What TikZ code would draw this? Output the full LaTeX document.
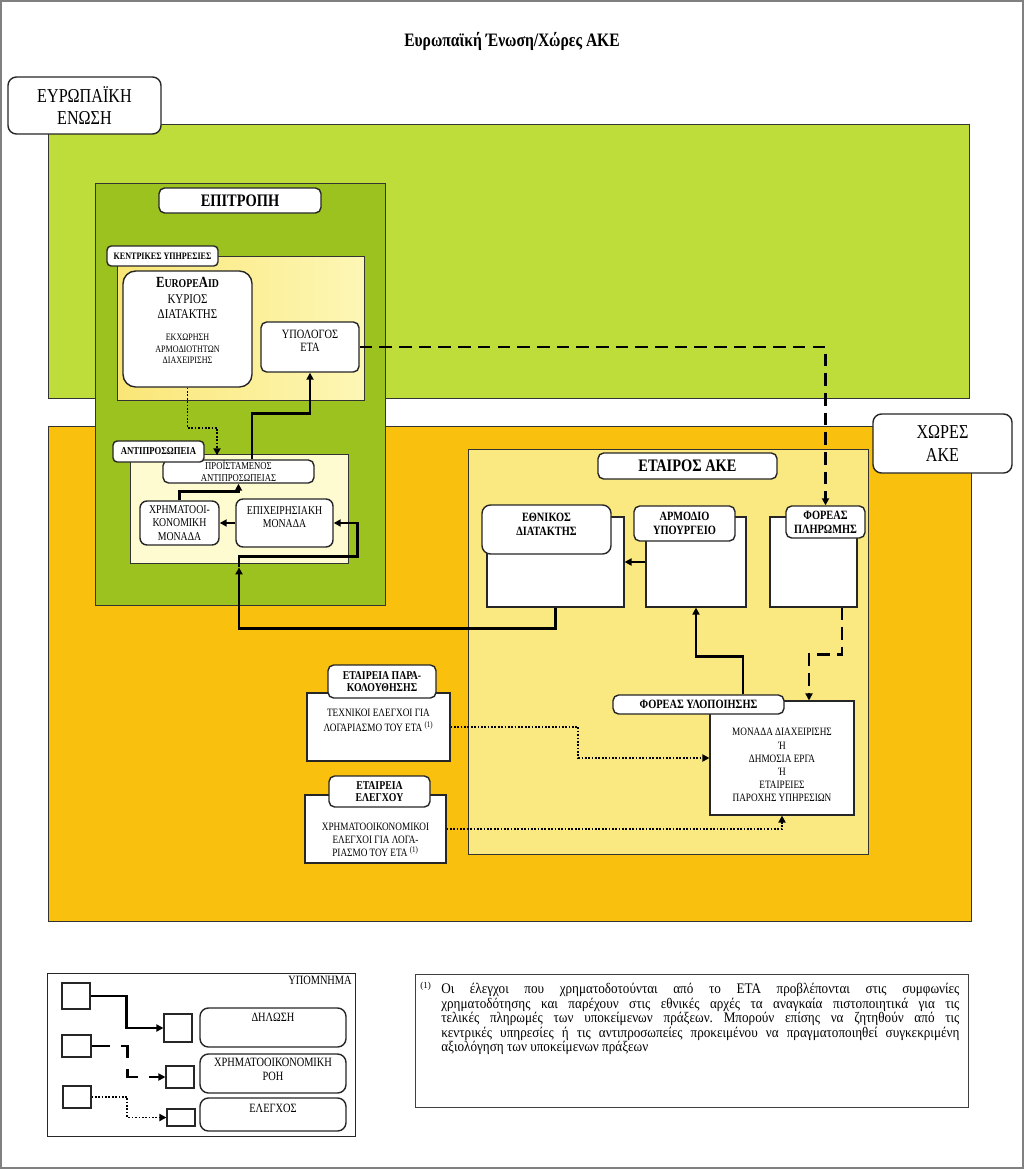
\documentclass[tikz,border=0pt]{standalone}
\usepackage{fontspec}
\setmainfont{Liberation Serif}
\newfontfamily\nrw[FakeStretch=0.82]{Liberation Serif}
\newfontfamily\notefont[FakeStretch=0.9]{Liberation Serif}
\usetikzlibrary{arrows.meta, positioning, calc, fit}

\definecolor{eugreen}{RGB}{191,221,58}
\definecolor{commgreen}{RGB}{156,194,32}
\definecolor{hqyellow}{RGB}{250,230,118}
\definecolor{hqpale}{RGB}{253,247,182}
\definecolor{delepale}{RGB}{255,251,208}
\definecolor{acporange}{RGB}{249,193,14}
\definecolor{partneryellow}{RGB}{250,232,128}

\newcommand{\fsz}[2]{\fontsize{#1}{#2}\selectfont}

\begin{document}
\begin{tikzpicture}[
    x=0.025cm, y=-0.025cm,
    >=stealth,
    every node/.style={align=center}
]
    % Define styles
    \tikzstyle{area} = [rectangle, draw=black!80, line width=0.6pt, inner sep=0pt]
    \tikzstyle{panel} = [rectangle, draw=black!85, line width=0.8pt, fill=white, inner sep=0pt]
    \tikzstyle{tag} = [rectangle, rounded corners=4pt, draw=black!85, line width=1pt, fill=white, inner sep=0pt]
    \tikzstyle{txt} = [inner sep=0pt, font=\nrw\fsz{8}{9.3}]
    \tikzstyle{tagtxt} = [inner sep=0pt, font=\nrw\bfseries\fsz{9}{10}]
    \tikzstyle{decl} = [line width=2pt, -{Triangle[length=5pt,width=5pt]}]
    \tikzstyle{flow} = [line width=2pt, dash pattern=on 9pt off 5pt, -{Triangle[length=5pt,width=5pt]}]
    \tikzstyle{ctrl} = [line width=1.4pt, dash pattern=on 1.2pt off 1.2pt, -{Triangle[length=5pt,width=5pt]}]

    \useasboundingbox (0,0) rectangle (1024,1169);
    \draw[gray, line width=1.5pt] (1,1) rectangle (1023,1168);

    % Title
    \node[font=\nrw\bfseries\fsz{13.5}{15}] (title) at (512,41) {Ευρωπαϊκή Ένωση/Χώρες ΑΚΕ};

    % Large areas
    \node[area, fill=eugreen, fit={(48,124) (969,398)}] (eu) {};
    \node[area, fill=acporange, fit={(48,426) (971,921)}] (acp) {};
    \node[tag, rounded corners=6pt, fit={(8,77) (161,134)}] (eulbl) {};
    \node[txt, font=\nrw\fsz{14}{16}] (eutxt) at (eulbl) {ΕΥΡΩΠΑΪΚΗ\\ΕΝΩΣΗ};
    \node[tag, rounded corners=6pt, fit={(873,414) (1012,473)}] (acplbl) {};
    \node[txt, font=\nrw\fsz{14}{16}] (acptxt) at (acplbl) {ΧΩΡΕΣ\\ΑΚΕ};

    % Commission
    \node[area, fill=commgreen, fit={(95,183) (385,605)}] (comm) {};
    \node[tag, fit={(159,188) (321,213)}] (commlbl) {};
    \node[tagtxt, font=\nrw\bfseries\fsz{12.5}{14}] (commtxt) at (commlbl) {ΕΠΙΤΡΟΠΗ};

    % Headquarters
    \node[area, left color=hqyellow, right color=hqpale, fit={(117,256) (364,400)}] (hq) {};
    \node[tag, rounded corners=3pt, fit={(107,246) (218,266)}] (hqlbl) {};
    \node[tagtxt, font=\nrw\bfseries\fsz{7}{8}] (hqtxt) at (hqlbl) {ΚΕΝΤΡΙΚΕΣ ΥΠΗΡΕΣΙΕΣ};
    \node[tag, rounded corners=9pt, fit={(123,271) (252,387)}] (aid) {};
    \node[txt, font=\nrw\fsz{9.5}{11}] (aidtitle) at (187.5,298) {{\bfseries\fsz{11}{11}E\fsz{8.5}{11}UROPE\fsz{11}{11}A\fsz{8.5}{11}ID}\\ΚΥΡΙΟΣ\\ΔΙΑΤΑΚΤΗΣ};
    \node[txt, font=\nrw\fsz{7}{8.2}] (aidnote) at (187.5,349) {ΕΚΧΩΡΗΣΗ\\ΑΡΜΟΔΙΟΤΗΤΩΝ\\ΔΙΑΧΕΙΡΙΣΗΣ};
    \node[tag, fit={(261,322) (359,372)}] (accnt) {};
    \node[txt, font=\nrw\fsz{9}{9.5}] (accnttxt) at (310,341) {ΥΠΟΛΟΓΟΣ\\ΕΤΑ};

    % Delegation
    \node[area, fill=delepale, fit={(130,454) (348,563)}] (dele) {};
    \node[tag, fit={(163,460) (314,483)}] (head) {};
    \node[txt, font=\nrw\fsz{7.5}{8.5}] (headtxt) at (head) {ΠΡΟΪΣΤΑΜΕΝΟΣ\\ΑΝΤΙΠΡΟΣΩΠΕΙΑΣ};
    \node[tag, rounded corners=3pt, fit={(113,441) (204,462)}] (delelbl) {};
    \node[tagtxt, font=\nrw\bfseries\fsz{7.5}{8}] (deletxt) at (delelbl) {ΑΝΤΙΠΡΟΣΩΠΕΙΑ};
    \node[tag, rounded corners=5pt, fit={(140,501) (219,545)}] (fin) {};
    \node[txt, font=\nrw\fsz{8.5}{9.8}] (fintxt) at (fin) {ΧΡΗΜΑΤΟΟΙ-\\ΚΟΝΟΜΙΚΗ\\ΜΟΝΑΔΑ};
    \node[tag, rounded corners=5pt, fit={(236,499) (333,547)}] (ops) {};
    \node[txt, font=\nrw\fsz{8.5}{9.5}] (opstxt) at (284.5,517) {ΕΠΙΧΕΙΡΗΣΙΑΚΗ\\ΜΟΝΑΔΑ};

    % ACP partner
    \node[area, fill=partneryellow, fit={(468,449) (868,854)}] (partner) {};
    \node[tag, fit={(598,453) (777,479)}] (partnerlbl) {};
    \node[tagtxt, font=\nrw\bfseries\fsz{12.5}{14}] (partnertxt) at (partnerlbl) {ΕΤΑΙΡΟΣ ΑΚΕ};

    \node[panel, fit={(487,517) (624,607)}] (natbox) {};
    \node[tag, rounded corners=6pt, fit={(482,505) (611,554)}] (natlbl) {};
    \node[tagtxt] (nattxt) at (546.5,524) {ΕΘΝΙΚΟΣ\\ΔΙΑΤΑΚΤΗΣ};
    \node[panel, fit={(646,517) (746,607)}] (minbox) {};
    \node[tag, fit={(634,506) (735,541)}] (minlbl) {};
    \node[tagtxt] (mintxt) at (minlbl) {ΑΡΜΟΔΙΟ\\ΥΠΟΥΡΓΕΙΟ};
    \node[panel, fit={(770,517) (857,607)}] (paybox) {};
    \node[tag, fit={(786,506) (865,538)}] (paylbl) {};
    \node[tagtxt] (paytxt) at (paylbl) {ΦΟΡΕΑΣ\\ΠΛΗΡΩΜΗΣ};

    \node[panel, fit={(710,701) (854,815)}] (implbox) {};
    \node[txt, font=\nrw\fsz{8}{9.3}] (impltxt) at (782,765) {ΜΟΝΑΔΑ ΔΙΑΧΕΙΡΙΣΗΣ\\Ή\\ΔΗΜΟΣΙΑ ΕΡΓΑ\\Ή\\ΕΤΑΙΡΕΙΕΣ\\ΠΑΡΟΧΗΣ ΥΠΗΡΕΣΙΩΝ};
    \node[tag, fit={(613,695) (784,714)}] (impllbl) {};
    \node[tagtxt] (impllbltxt) at (impllbl) {ΦΟΡΕΑΣ ΥΛΟΠΟΙΗΣΗΣ};

    % Monitoring and audit companies
    \node[panel, fit={(307,693) (450,761)}] (monbox) {};
    \node[txt, font=\nrw\fsz{8}{10.5}] (montxt) at (378.5,720) {ΤΕΧΝΙΚΟΙ ΕΛΕΓΧΟΙ ΓΙΑ\\ΛΟΓΑΡΙΑΣΜΟ ΤΟΥ ΕΤΑ \textsuperscript{(1)}};
    \node[tag, fit={(328,665) (436,698)}] (monlbl) {};
    \node[tagtxt, font=\nrw\bfseries\fsz{8.5}{9}] (monlbltxt) at (monlbl) {ΕΤΑΙΡΕΙΑ ΠΑΡΑ-\\ΚΟΛΟΥΘΗΣΗΣ};
    \node[panel, fit={(305,795) (446,863)}] (audbox) {};
    \node[txt, font=\nrw\fsz{8}{9.3}] (audtxt) at (375.5,840) {ΧΡΗΜΑΤΟΟΙΚΟΝΟΜΙΚΟΙ\\ΕΛΕΓΧΟΙ ΓΙΑ ΛΟΓΑ-\\ΡΙΑΣΜΟ ΤΟΥ ΕΤΑ \textsuperscript{(1)}};
    \node[tag, fit={(329,776) (430,807)}] (audlbl) {};
    \node[tagtxt, font=\nrw\bfseries\fsz{8.5}{9}] (audlbltxt) at (audlbl) {ΕΤΑΙΡΕΙΑ\\ΕΛΕΓΧΟΥ};

    % Connectors in the Commission
    \draw[ctrl] (aid.south) -- ++(0,40) -| ($(head.north)+(-21.5,-4)$);
    \draw[decl] ($(head.north)+(13.5,0)$) |- ($(accnt.south)+(0,41)$) -- (accnt.south);
    \draw[decl] (ops.west) -- (fin.east);
    \draw[decl] (fin.north) |- ($(head.south)+(0,8)$) -- (head.south);
    \draw[decl] (natbox.south) -- ++(0,21) -| ($(dele.south)+(0,4)$);
    \draw[decl] ($(dele.south)+(0,4)$) -- ++(0,-11) -| ($(ops.east)+(24,0)$) -- (ops.east);

    % Connectors in the ACP country
    \draw[flow] (accnt.east) -| (paylbl.north);
    \draw[decl] (minbox.west) -- (natbox.east);
    \draw[decl] ($(impllbl.north)+(44.5,0)$) |- ($(minbox.south)+(0,49)$) -- (minbox.south);
    \draw[flow] ($(paybox.south)+(28.5,0)$) |- ($(implbox.north)+(27,-46)$) -- ($(implbox.north)+(27,0)$);
    \draw[ctrl] (monbox.east) -| ($(implbox.west)+(-131,0)$) -- (implbox.west);
    \draw[ctrl] (audbox.east) -| (implbox.south);

    % Legend
    \node[area, draw=black!85, fill=white, fit={(47,973) (355,1136)}] (legend) {};
    \node[txt, anchor=north east, font=\nrw\fsz{9}{10}] (legendttl) at (352,976) {ΥΠΟΜΝΗΜΑ};
    \node[panel, fit={(62,983) (90,1009)}] (lg1) {};
    \node[panel, fit={(164,1014) (192,1042)}] (lg2) {};
    \node[panel, fit={(62,1035) (91,1057)}] (lg3) {};
    \node[panel, fit={(166,1066) (194,1088)}] (lg4) {};
    \node[panel, fit={(63,1086) (91,1108)}] (lg5) {};
    \node[panel, fit={(167,1109) (195,1126)}] (lg6) {};
    \draw[decl] (lg1.east) -| ($(lg2.west)+(-37,0)$) -- (lg2.west);
    \draw[flow, dash pattern=on 13pt off 8pt] (lg3.east) -| ($(lg4.west)+(-38,0)$) -- (lg4.west);
    \draw[ctrl] (lg5.east) -| ($(lg6.west)+(-39,0)$) -- (lg6.west);
    \node[tag, rounded corners=6pt, fit={(200,1008) (346,1047)}] (lgdecl) {};
    \node[txt, font=\nrw\fsz{9}{10}] (lgdecltxt) at (273,1017) {ΔΗΛΩΣΗ};
    \node[tag, rounded corners=6pt, fit={(200,1054) (346,1093)}] (lgflow) {};
    \node[txt, font=\nrw\fsz{9}{10}] (lgflowtxt) at (273,1069) {ΧΡΗΜΑΤΟΟΙΚΟΝΟΜΙΚΗ\\ΡΟΗ};
    \node[tag, rounded corners=6pt, fit={(200,1098) (346,1131)}] (lgctrl) {};
    \node[txt, font=\nrw\fsz{9}{10}] (lgctrltxt) at (273,1108) {ΕΛΕΓΧΟΣ};

    % Footnote
    \node[area, draw=black!75, fill=white, fit={(415,974) (968,1107)}] (note) {};
    \node[txt, anchor=north west, font=\fsz{6.5}{7}] (notemark) at (420,982) {(1)};
    \node[txt, anchor=north west, text width=12.95cm, align=justify, font=\notefont\frenchspacing\fsz{10.4}{10.3}] (notetxt) at (441,983) {Οι έλεγχοι που χρηματοδοτούνται από το ΕΤΑ προβλέπονται στις συμφωνίες\linebreak χρηματοδότησης και παρέχουν στις εθνικές αρχές τα αναγκαία πιστοποιητικά για τις\linebreak τελικές πληρωμές των υποκείμενων πράξεων. Μπορούν επίσης να ζητηθούν από τις\linebreak κεντρικές υπηρεσίες ή τις αντιπροσωπείες προκειμένου να πραγματοποιηθεί συγκεκριμένη\linebreak αξιολόγηση των υποκείμενων πράξεων};

\end{tikzpicture}
\end{document}
